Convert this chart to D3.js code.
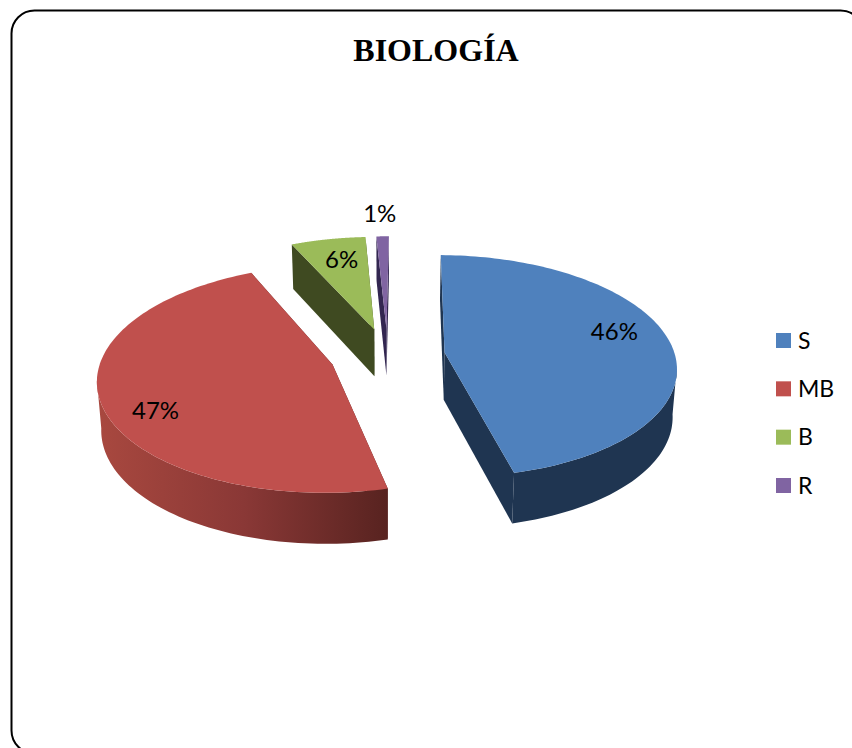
<!DOCTYPE html>
<html>
<head>
<meta charset="utf-8">
<script src="https://cdn.jsdelivr.net/npm/d3@7"></script>
<style>
    html, body { margin: 0; padding: 0; background: #fff; overflow: hidden; }
    svg { display: block; }
</style>
</head>
<body>
<div id="chart"></div>
<script>
// values
const categories = ["S", "MB", "B", "R"];
const shares = [46, 47, 6, 1];
const labels = ["46%", "47%", "6%", "1%"];
const chartTitle = "BIOLOGÍA";

const topColors = ["#4f81bd", "#c0504d", "#9bbb59", "#8064a2"];
const cutColors = ["#1f3551", "#5a2320", "#3f4a21", "#322650"];

const width = 852;
const height = 748;

// fake 3D pie: ground plane (u, v) goes through a small perspective
const centerX = 387.5;
const centerY = 355.5;
const radiusX = 230.5;
const radiusY = 110;
const perspective = 0.123;
const depth = 47.5;
const explode = 0.25;
const firstAngle = 0.012; // pie is turned a little

function project(u, v, bottom) {
    const k = 1 + perspective * v;
    const shrink = bottom ? 0.985 : 1;
    return [
        centerX + shrink * radiusX * u / k,
        centerY - radiusY * v / k + (bottom ? depth / Math.sqrt(k) : 0)
    ];
}

const svg = d3.select("#chart").append("svg")
    .attr("width", width)
    .attr("height", height);

// the frame runs off the right and bottom of the picture
svg.append("rect")
    .attr("x", 11.5)
    .attr("y", 10.5)
    .attr("width", 852)
    .attr("height", 743)
    .attr("rx", 23)
    .attr("fill", "#fff")
    .attr("stroke", "#000")
    .attr("stroke-width", 2);

svg.append("text")
    .attr("x", 436)
    .attr("y", 60.5)
    .attr("text-anchor", "middle")
    .attr("font-family", "'Liberation Serif'")
    .attr("font-weight", "bold")
    .attr("font-size", 32)
    .text(chartTitle);

// red wall gets darker to the right
const wallShade = svg.append("defs").append("linearGradient")
    .attr("id", "redWall")
    .attr("gradientUnits", "userSpaceOnUse")
    .attr("x1", 100)
    .attr("x2", 387)
    .attr("y1", 0)
    .attr("y2", 0);
wallShade.append("stop").attr("offset", 0).attr("stop-color", "#a8483f");
wallShade.append("stop").attr("offset", 0.5).attr("stop-color", "#8a3836");
wallShade.append("stop").attr("offset", 1).attr("stop-color", "#582320");

const arcs = d3.pie().sort(null)
    .startAngle(firstAngle)
    .endAngle(firstAngle + 2 * Math.PI)(shares);
const line = d3.line();

const slices = svg.append("g");

arcs.forEach((d, i) => {
    const mid = (d.startAngle + d.endAngle) / 2;
    const ax = explode * Math.sin(mid);
    const ay = explode * Math.cos(mid);
    const rim = d3.range(0, 121).map(j => d.startAngle + (d.endAngle - d.startAngle) * j / 120);
    const onRim = (a, bottom) => project(ax + Math.sin(a), ay + Math.cos(a), bottom);
    const g = slices.append("g");

    // the two cut faces
    [d.startAngle, d.endAngle].forEach(a => {
        g.append("path")
            .attr("d", line([project(ax, ay, false), onRim(a, false), onRim(a, true), project(ax, ay, true)]) + "Z")
            .attr("fill", cutColors[i]);
    });

    // outer wall, only the part that faces us (the back part folds over itself)
    const front = rim.filter(a => Math.cos(a) < -perspective);
    if (front.length > 1) {
        const wall = front.map(a => onRim(a, false)).concat(front.slice().reverse().map(a => onRim(a, true)));
        g.append("path")
            .attr("d", line(wall) + "Z")
            .attr("fill", i === 1 ? "url(#redWall)" : cutColors[i]);
    }

    g.append("path")
        .attr("d", line([project(ax, ay, false)].concat(rim.map(a => onRim(a, false)))) + "Z")
        .attr("fill", topColors[i]);
});

// percent labels sit along the middle of each slice
const labelRadius = [0.75, 0.75, 0.75, 1.28];
const labelNudge = [[1, -12], [-5, 18], [3, 0], [-2, 0]];

function labelPoint(d, i) {
    const mid = (d.startAngle + d.endAngle) / 2;
    const r = explode + labelRadius[i];
    const p = project(r * Math.sin(mid), r * Math.cos(mid), false);
    return [p[0] + labelNudge[i][0], p[1] + labelNudge[i][1]];
}

svg.append("g")
    .selectAll("text")
    .data(arcs)
    .enter().append("text")
    .attr("x", (d, i) => labelPoint(d, i)[0])
    .attr("y", (d, i) => labelPoint(d, i)[1])
    .attr("dy", "0.35em")
    .attr("text-anchor", "middle")
    .attr("font-family", "Lato")
    .attr("font-size", 24)
    .attr("fill", "#000")
    .text((d, i) => labels[i]);

// legend
const legendY = d3.scalePoint()
    .domain(categories)
    .range([340.5, 485.5]);

const legend = svg.append("g")
    .selectAll("g")
    .data(categories)
    .enter().append("g")
    .attr("transform", d => `translate(776,${legendY(d)})`);

legend.append("rect")
    .attr("y", -7.5)
    .attr("width", 15)
    .attr("height", 15)
    .attr("fill", (d, i) => topColors[i]);

legend.append("text")
    .attr("x", 22)
    .attr("dy", "0.35em")
    .attr("font-family", "Lato")
    .attr("font-size", 23)
    .attr("fill", "#000")
    .text(d => d);
</script>
</body>
</html>
